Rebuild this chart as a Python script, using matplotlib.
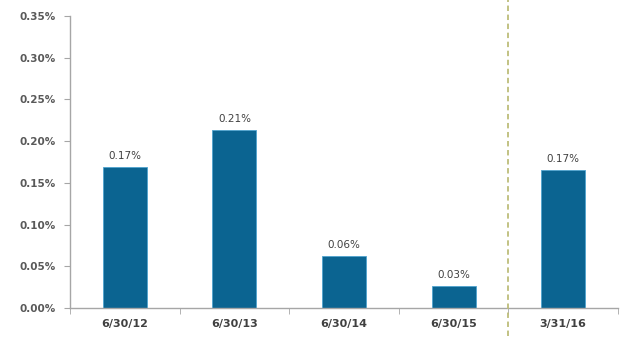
import numpy as np
import matplotlib.pyplot as plt
from matplotlib.lines import Line2D

# ==========================
# Data
# ==========================
dates = ["6/30/12", "6/30/13", "6/30/14", "6/30/15", "3/31/16"]
rates = [0.169, 0.2135, 0.0625, 0.026, 0.1655]   # percent
y_ticks = [0.00, 0.05, 0.10, 0.15, 0.20, 0.25, 0.30, 0.35]

bar_color = "#0b6491"
text_color = "#404040"
axis_color = "#a6a6a6"

# ==========================
# Figure
# ==========================
fig = plt.figure(figsize=(6.23, 3.51), dpi=100)
ax = fig.add_axes([70 / 623, 1 - 308 / 351, 548 / 623, 292 / 351])

x = np.arange(len(dates))
ax.bar(x, rates, width=0.4, color=bar_color, edgecolor="#4fa3cf", linewidth=0.6, zorder=2)

for xi, v in zip(x, rates):
    ax.text(xi, v + 0.007, f"{v:.2f}%", ha="center", va="bottom",
            fontsize=7.5, color=text_color)

ax.set_xlim(-0.5, len(dates) - 0.5)
ax.set_ylim(0, 0.35)

ax.set_yticks(y_ticks)
ax.set_yticklabels([f"{t:.2f}%" for t in y_ticks], fontsize=7.5,
                   fontweight="bold", color="#595959")

# category labels centred on bars, tick marks between them
ax.set_xticks(x)
ax.set_xticklabels(dates, fontsize=8, fontweight="bold", color=text_color)
ax.tick_params(axis="x", length=0, pad=8)
ax.set_xticks(np.arange(-0.5, len(dates)), minor=True)
ax.tick_params(axis="x", which="minor", length=4, color=axis_color, direction="out")
ax.tick_params(axis="y", length=4, color=axis_color, pad=6)

for side in ["top", "right"]:
    ax.spines[side].set_visible(False)
for side in ["left", "bottom"]:
    ax.spines[side].set_color(axis_color)
    ax.spines[side].set_linewidth(1.0)

# dashed divider before the latest quarter
x_div = fig.transFigure.inverted().transform(ax.transData.transform((3.5, 0)))[0]
fig.add_artist(Line2D([x_div, x_div], [1 - 336 / 351, 1.0], transform=fig.transFigure,
                      color="#bdbd7a", linestyle=(0, (3, 2)), linewidth=1.3))

fig.savefig("out.png", dpi=100)
